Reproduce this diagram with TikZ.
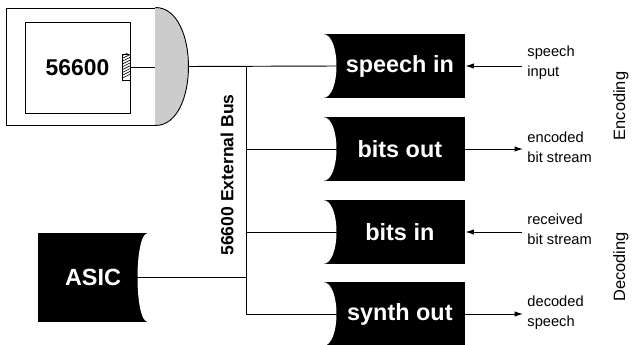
\documentclass[tikz,border=0pt]{standalone}
\usepackage{fontspec}
\setmainfont{Liberation Sans}
\usetikzlibrary{arrows.meta,calc}

\begin{document}
\begin{tikzpicture}[x=0.03cm,y=-0.03cm,line width=0.8pt,
  unit/.style={fill=black,text=white,font=\bfseries\fontsize{20}{22}\selectfont,minimum width=4.26cm,minimum height=1.92cm,inner sep=0pt},
  note/.style={anchor=west,align=left,font=\fontsize{12.5}{17}\selectfont,inner sep=0pt},
  side/.style={rotate=90,font=\fontsize{14}{16}\selectfont},
  sig/.style={-{Latex[length=2.5mm,width=1.6mm]}}]
\useasboundingbox (0,0) rectangle (634,345);
% the 56600 chip
\node[draw,minimum width=4.47cm,minimum height=3.51cm] (chip) at (80.5,66.5) {};
\filldraw[fill=black!20] (chip.north east) .. controls +(44,0) and +(44,0) .. (chip.south east);
\node[draw,font=\bfseries\fontsize{19.5}{22}\selectfont,minimum width=3.15cm,minimum height=2.73cm] (core) at (77.5,67.5) {56600};
\node[draw,line width=0.6pt,fill=white,minimum width=0.24cm,minimum height=0.78cm,inner sep=0pt,
  path picture={\foreach \k in {-4,...,4} \draw[line width=0.5pt] ([yshift=\k*2.4pt]path picture bounding box.west) -- ++(0.24cm,0.12cm);}] (pin) at (126,67) {};
\coordinate (tap) at ($(chip.east)+(33,0)$);
\draw (pin.east) -- (pin.east -| chip.east);
% ASIC
\node[unit,minimum width=3.3cm,minimum height=2.67cm] (asic) at (93,277.5) {ASIC};
\fill[white] (asic.north east) .. controls +(-14.7,0) and +(-14.7,0) .. (asic.south east) -- cycle;
\coordinate (asic-e) at ($(asic.east)+(-11,0)$);
% units on the bus
\node[unit] (si) at (394,66) {\hspace*{10pt}speech in};
\node[unit] (bo) at (394,149) {\hspace*{10pt}bits out};
\node[unit] (bi) at (394,232) {\hspace*{10pt}bits in};
\node[unit] (so) at (394,314) {\hspace*{10pt}synth out};
\foreach \n in {si,bo,bi,so} {
  \fill[white] (\n.north west) .. controls +(18.7,0) and +(18.7,0) .. (\n.south west) -- cycle;
  \coordinate (\n-w) at ($(\n.west)+(14,0)$);
}
% bus
\coordinate (bt) at (246,66);
\coordinate (bb) at (246,314);
\draw (tap) -- (si-w);
\draw (bt) -- (bb);
\foreach \n in {bo,bi,so}
  \draw (bt |- \n-w) -- (\n-w);
\draw (asic-e) -- (asic-e -| bt);
\node[rotate=90,font=\bfseries\fontsize{15}{17}\selectfont] (bus) at (227,175) {56600 External Bus};
% signals
\coordinate (si-in) at (522,66);
\coordinate (bo-out) at (523,149);
\coordinate (bi-in) at (522,232);
\coordinate (so-out) at (523,314);
\draw[sig] (si-in) -- (si.east);
\draw[sig] (bo.east) -- (bo-out);
\draw[sig] (bi-in) -- (bi.east);
\draw[sig] (so.east) -- (so-out);
\node[note] (si-lbl) at (527,63) {speech\\input};
\node[note] (bo-lbl) at (527,147.5) {encoded\\bit stream};
\node[note] (bi-lbl) at (527,229.5) {received\\bit stream};
\node[note] (so-lbl) at (527,312.5) {decoded\\speech};
\node[side] (enc) at (621,106) {Encoding};
\node[side] (dec) at (621,267) {Decoding};
\end{tikzpicture}
\end{document}
